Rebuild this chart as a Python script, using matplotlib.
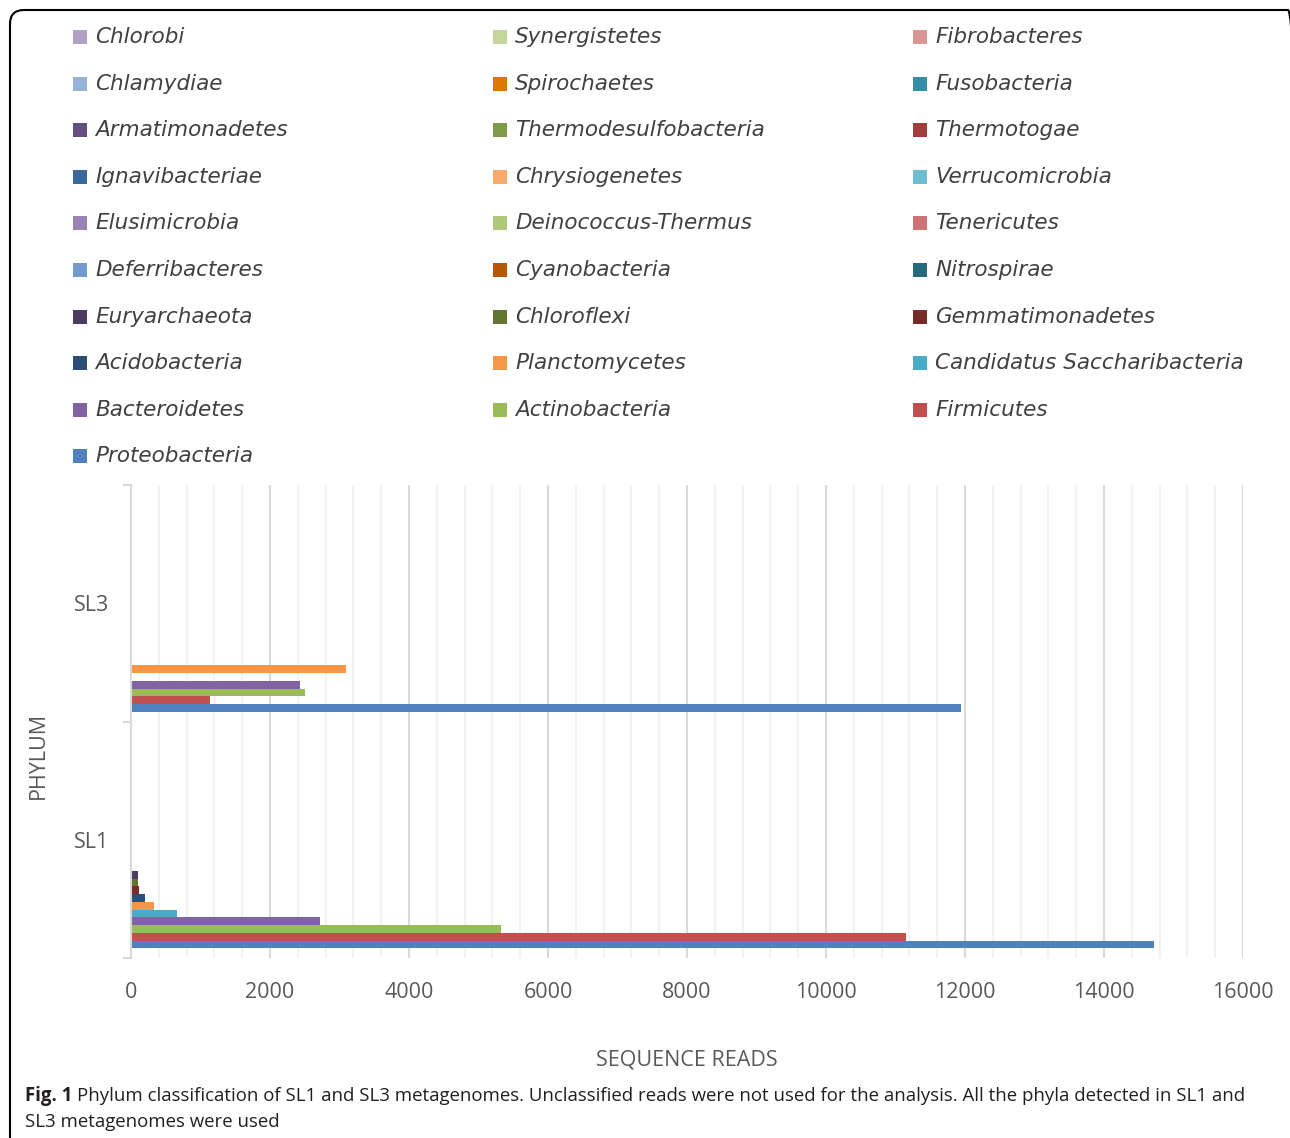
import matplotlib
matplotlib.use('Agg')
import matplotlib.pyplot as plt
from matplotlib.patches import FancyBboxPatch, Rectangle
from matplotlib.transforms import IdentityTransform
import numpy as np

# Sequence reads per phylum, in plotting order (bottom bar first)
phyla = ['Proteobacteria', 'Firmicutes', 'Actinobacteria', 'Bacteroidetes',
         'Candidatus Saccharibacteria', 'Planctomycetes', 'Acidobacteria',
         'Gemmatimonadetes', 'Chloroflexi', 'Euryarchaeota', 'Nitrospirae',
         'Cyanobacteria', 'Deferribacteres', 'Tenericutes', 'Deinococcus-Thermus',
         'Elusimicrobia', 'Verrucomicrobia', 'Chrysiogenetes', 'Ignavibacteriae',
         'Thermotogae', 'Thermodesulfobacteria', 'Armatimonadetes', 'Fusobacteria',
         'Spirochaetes', 'Chlamydiae', 'Fibrobacteres', 'Synergistetes', 'Chlorobi']
sl1 = [14720, 11150, 5320, 2720, 660, 335, 205, 110, 95, 95, 20,
       15, 5, 5, 12, 4, 4, 3, 3, 3, 2, 2, 2, 2, 1, 1, 1, 1]
sl3 = [11940, 1140, 2500, 2430, 0, 3100, 8, 6, 6, 5, 4,
       4, 2, 2, 3, 1, 1, 1, 1, 1, 1, 1, 1, 1, 1, 1, 1, 1]
samples = ['SL1', 'SL3']
colors = ['#4F81BD', '#C0504D', '#9BBB59', '#8064A2', '#4BACC6', '#F79646',
          '#2C4D75', '#772C2A', '#5F7530', '#4D3B62', '#276A7C', '#B65708',
          '#729ACA', '#CD7371', '#AFC97A', '#9983B5', '#6FBDD1', '#F9AB6B',
          '#3A679C', '#9F3E3A', '#7F9A48', '#664F83', '#358EA6', '#E07602',
          '#95B3D7', '#D99694', '#C3D69B', '#B2A1C7']

W, H = 1290, 1138
fig = plt.figure(figsize=(W / 100, H / 100), dpi=100)

# frame around the whole figure, in pixels (runs off the bottom and right edges)
frame = FancyBboxPatch((10, -100), 1292, H - 10 + 100,
                       boxstyle='round,pad=0,rounding_size=14',
                       transform=IdentityTransform(), fc='none', ec='black', lw=1.5)
fig.patches.append(frame)

ax = fig.add_axes([131 / W, 1 - 958 / H, 1112 / W, 473 / H])

n = len(phyla)
h = 0.0328
offsets = (np.arange(n) - (n - 1) / 2) * h
ypos = np.arange(len(samples))
for i, name in enumerate(phyla):
    ax.barh(ypos + offsets[i], [sl1[i], sl3[i]], height=h, color=colors[i],
            linewidth=0, zorder=3)

ax.set_xlim(0, 16000)
ax.set_ylim(-0.5, 1.5)
ax.set_xticks(np.arange(0, 16001, 2000))
ax.set_xticks(np.arange(0, 16001, 400), minor=True)
ax.set_yticks(ypos)
ax.set_yticklabels(samples)
ax.set_yticks([-0.5, 0.5, 1.5], minor=True)

ax.grid(axis='x', which='minor', color='#F2F2F2', lw=1.5, zorder=0)
ax.grid(axis='x', which='major', color='#D9D9D9', lw=1.5, zorder=1)
for s in ['top', 'right', 'bottom']:
    ax.spines[s].set_visible(False)
ax.spines['left'].set_color('#D9D9D9')
ax.spines['left'].set_linewidth(1.5)
ax.spines['left'].set_zorder(4)

tick_font = {'family': 'Open Sans', 'size': 15.5, 'color': '#595959'}
ax.tick_params(axis='x', which='both', length=0, pad=17, labelsize=15.5,
               labelcolor='#595959')
ax.tick_params(axis='y', which='major', length=0, pad=16, labelsize=15.5,
               labelcolor='#595959')
ax.tick_params(axis='y', which='minor', length=6, width=1.5, color='#D9D9D9')
for lab in ax.get_xticklabels() + ax.get_yticklabels():
    lab.set_fontfamily('Open Sans')

ax.set_xlabel('SEQUENCE READS', fontdict=tick_font, labelpad=34)
fig.text(38 / W, 1 - 755 / H, 'PHYLUM', rotation=90, ha='center', va='center',
         **tick_font)

# legend: three columns, read row by row, series listed top bar first
legend_order = phyla[::-1]
for k, name in enumerate(legend_order):
    row, col = divmod(k, 3)
    x0 = 73 + col * 420
    yc = 37 + row * 46.6
    fig.patches.append(Rectangle((x0 / W, 1 - (yc + 7) / H), 14 / W, 14 / H,
                                 transform=fig.transFigure, fc=colors[n - 1 - k],
                                 ec='none'))
    fig.text((x0 + 22) / W, 1 - yc / H, name, ha='left', va='center',
             fontsize=15.5, style='italic', family='DejaVu Sans', color='#404040')

# caption: bold figure number, then the description
cap_font = {'family': 'Open Sans', 'size': 13.4, 'color': '#231F20'}
fignum = fig.text(25 / W, 1 - 1096 / H, 'Fig. 1', ha='left', va='center',
                  weight='bold', **cap_font)
renderer = fig.canvas.get_renderer()
x_end = fignum.get_window_extent(renderer).x1
fig.text((x_end + 5) / W, 1 - 1096 / H,
         'Phylum classification of SL1 and SL3 metagenomes. Unclassified reads were '
         'not used for the analysis. All the phyla detected in SL1 and',
         ha='left', va='center', **cap_font)
fig.text(25 / W, 1 - 1122 / H, 'SL3 metagenomes were used', ha='left',
         va='center', **cap_font)

fig.savefig('out.png', dpi=100)
